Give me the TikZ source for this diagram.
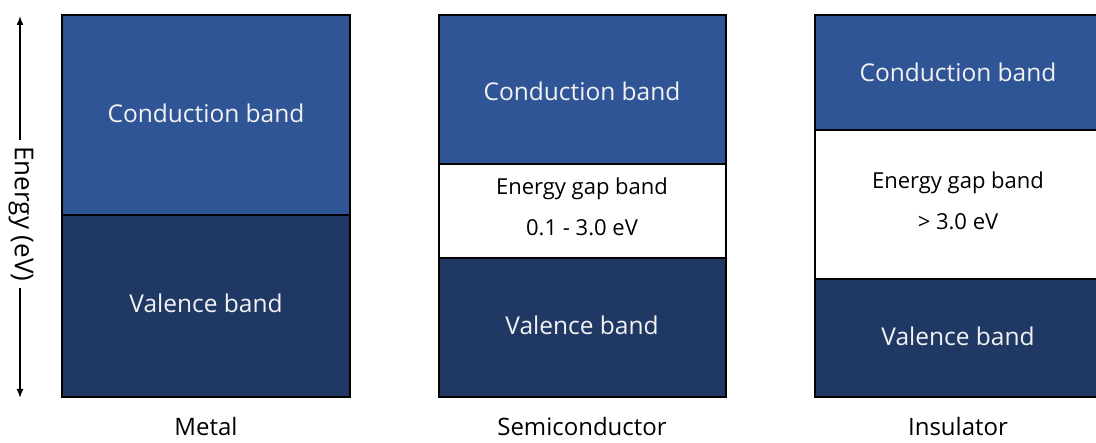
\documentclass[tikz,border=0pt]{standalone}
\usepackage{fontspec}
\setmainfont{Open Sans}
\usetikzlibrary{arrows.meta}
\definecolor{condblue}{HTML}{2F5597}
\definecolor{valblue}{HTML}{203864}
\definecolor{bandtext}{HTML}{F2F2F2}
\tikzset{
  band/.style={draw=black, line width=2pt},
  cond/.style={band, fill=condblue},
  val/.style={band, fill=valblue},
  gap/.style={band, fill=white},
  bandlabel/.style={text=bandtext, font=\fontsize{24.5}{28}\selectfont},
  gaplabel/.style={text=black, font=\fontsize{22}{26}\selectfont},
  material/.style={text=black, font=\fontsize{24}{28}\selectfont, anchor=base, inner sep=0pt},
}
\begin{document}
\begin{tikzpicture}[x=1pt, y=-1pt]
\useasboundingbox (0,0) rectangle (1096,443);
\clip (0,0) rectangle (1096,443);

% Energy axis
\coordinate (etop) at (20,16);
\coordinate (ebot) at (20,398);
\node[rotate=-90, font=\fontsize{26}{30}\selectfont, inner sep=6pt] (elabel) at (21,214) {Energy (eV)};
\draw[line width=1.6pt, -{Latex[length=9pt,width=7pt]}] (elabel.west -| etop) -- (etop);
\draw[line width=1.6pt, -{Latex[length=9pt,width=7pt]}] (elabel.east -| ebot) -- (ebot);

% Metal
\draw[cond] (62,15) rectangle (350,215);
\draw[val] (62,215) rectangle (350,397);
\node[bandlabel] (mcb) at (206,113) {Conduction band};
\node[bandlabel] (mvb) at (206,303) {Valence band};
\node[material] (metal) at (206,436) {Metal};

% Semiconductor
\draw[cond] (439,15) rectangle (726,164);
\draw[gap] (439,164) rectangle (726,258);
\draw[val] (439,258) rectangle (726,397);
\node[bandlabel] (scb) at (582,91) {Conduction band};
\node[gaplabel] (sgap) at (582,189) {Energy gap band};
\node[gaplabel] (sev) at (582,228) {0.1 - 3.0 eV};
\node[bandlabel] (svb) at (582,325) {Valence band};
\node[material] (semi) at (582,436) {Semiconductor};

% Insulator
\draw[cond] (815,15) rectangle (1102,130);
\draw[gap] (815,130) rectangle (1102,279);
\draw[val] (815,279) rectangle (1102,397);
\node[bandlabel] (icb) at (958,72) {Conduction band};
\node[gaplabel] (igap) at (958,183) {Energy gap band};
\node[gaplabel] (iev) at (958,222) {> 3.0 eV};
\node[bandlabel] (ivb) at (958,336) {Valence band};
\node[material] (ins) at (958,436) {Insulator};
\end{tikzpicture}
\end{document}
